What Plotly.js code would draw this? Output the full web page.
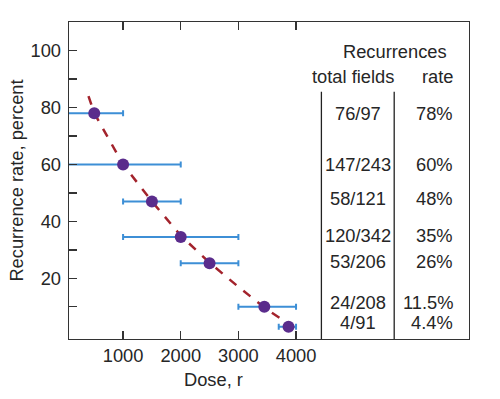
<!DOCTYPE html>
<html>
<head>
<meta charset="utf-8">
<script src="https://cdn.plot.ly/plotly-3.0.1.min.js"></script>
<style>html,body{margin:0;padding:0;background:#fff;}#chart{width:500px;height:399px;}</style>
</head>
<body>
<div id="chart"></div>
<script>
// Data
const dose = [500, 1000, 1500, 2000, 2500, 3450, 3870];
const rate = [78, 60, 47, 34.5, 25.3, 10, 3];
const doseLow = [0, 0, 1000, 1000, 2000, 3000, 3700];
const doseHigh = [1000, 2000, 2000, 3000, 3000, 4000, 4000];
const fitDose = [400, 500, 1000, 1500, 2000, 2500, 3000, 3500, 4100];
const fitRate = [84, 78, 60, 47, 35, 25.5, 17, 9, 1];
const fractions = ["76/97", "147/243", "58/121", "120/342", "53/206", "24/208", "4/91"];
const rateLabels = ["78%", "60%", "48%", "35%", "26%", "11.5%", "4.4%"];
const rateValues = [78, 60, 48, 35, 26, 11.5, 4.4];
const xTicks = [1000, 2000, 3000, 4000];
const yTicks = [10, 20, 30, 40, 50, 60, 70, 80, 90, 100];
const yTickText = ["", "20", "", "40", "", "60", "", "80", "", "100"];

const FONT = "Liberation Sans, Arial, Helvetica, sans-serif";
const TXT = "#262626";
const FS = 18.3;

const traces = [
  {
    x: fitDose, y: fitRate, mode: "lines", type: "scatter",
    line: {color: "#a3232c", width: 2.5, dash: "dash"},
    hoverinfo: "skip"
  },
  {
    x: dose, y: rate, mode: "markers", type: "scatter",
    marker: {color: "#5a2c8c", size: 12},
    error_x: {
      type: "data", symmetric: false,
      array: dose.map((d, i) => doseHigh[i] - d),
      arrayminus: dose.map((d, i) => d - doseLow[i]),
      color: "#3d8fd6", thickness: 2, width: 3
    }
  }
];

const annotations = [];
fractions.forEach((f, i) => {
  annotations.push({xref: "paper", yref: "y", x: 0.722, y: rateValues[i], text: f,
    showarrow: false, xanchor: "center", yanchor: "middle", font: {family: FONT, size: FS, color: TXT}});
  annotations.push({xref: "paper", yref: "y", x: 0.966, y: rateValues[i], text: rateLabels[i],
    showarrow: false, xanchor: "right", yanchor: "middle", font: {family: FONT, size: FS, color: TXT}});
});
annotations.push({xref: "paper", yref: "paper", x: 0.815, y: 0.906, text: "Recurrences",
  showarrow: false, xanchor: "center", yanchor: "middle", font: {family: FONT, size: FS, color: TXT}});
annotations.push({xref: "paper", yref: "paper", x: 0.71, y: 0.827, text: "total fields",
  showarrow: false, xanchor: "center", yanchor: "middle", font: {family: FONT, size: FS, color: TXT}});
annotations.push({xref: "paper", yref: "paper", x: 0.9225, y: 0.827, text: "rate",
  showarrow: false, xanchor: "center", yanchor: "middle", font: {family: FONT, size: FS, color: TXT}});
annotations.push({xref: "paper", yref: "paper", x: 0.36, y: -0.128, text: "Dose, r",
  showarrow: false, xanchor: "center", yanchor: "middle", font: {family: FONT, size: FS, color: TXT}});

const layout = {
  width: 500, height: 399,
  margin: {l: 69, r: 31, t: 22, b: 60, pad: 0},
  paper_bgcolor: "#fff", plot_bgcolor: "#fff",
  showlegend: false,
  font: {family: FONT, size: FS, color: TXT},
  xaxis: {
    range: [62, 7000], tickvals: xTicks, ticks: "inside", ticklen: 8, tickwidth: 1.3, tickcolor: "#333",
    showline: true, linecolor: "#333", linewidth: 1.3, mirror: "ticks",
    showgrid: false, zeroline: false, tickfont: {family: FONT, size: FS, color: TXT}
  },
  yaxis: {
    range: [-1.3, 110], tickvals: yTicks, ticktext: yTickText, ticks: "inside", ticklen: 8, tickwidth: 1.3, tickcolor: "#333",
    showline: true, linecolor: "#333", linewidth: 1.3, mirror: true, ticklabelstandoff: 3,
    showgrid: false, zeroline: false, tickfont: {family: FONT, size: FS, color: TXT},
    title: {text: "Recurrence rate, percent", font: {family: FONT, size: FS, color: TXT}, standoff: 2}
  },
  shapes: [
    {type: "line", xref: "paper", yref: "paper", x0: 0.631, x1: 0.631, y0: 0, y1: 0.78, line: {color: "#222", width: 1.3}},
    {type: "line", xref: "paper", yref: "paper", x0: 0.813, x1: 0.813, y0: 0, y1: 0.78, line: {color: "#222", width: 1.3}}
  ],
  annotations: annotations
};

Plotly.newPlot("chart", traces, layout, {displayModeBar: false, staticPlot: true});
</script>
</body>
</html>
